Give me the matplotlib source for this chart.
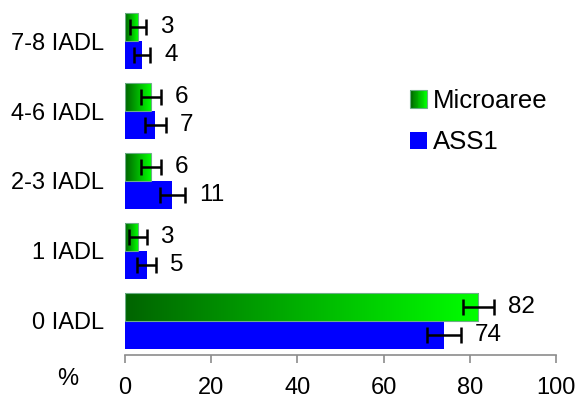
import numpy as np
import matplotlib.pyplot as plt
from matplotlib.colors import LinearSegmentedColormap
from matplotlib.legend_handler import HandlerBase
from matplotlib.patches import Rectangle, Patch

plt.rcParams['font.family'] = ['Liberation Sans', 'DejaVu Sans']

categories = ['0 IADL', '1 IADL', '2-3 IADL', '4-6 IADL', '7-8 IADL']
micro_vals = [82, 3, 6, 6, 3]
micro_err = [3.6, 2.0, 2.4, 2.4, 1.9]
ass_vals = [74, 5, 11, 7, 4]
ass_err = [4.0, 2.3, 2.9, 2.4, 1.9]
xticks = [0, 20, 40, 60, 80, 100]

green_cmap = LinearSegmentedColormap.from_list('grn', ['#006400', '#00ff00'])
blue = '#0000ff'
edge_green = '#6cae86'
gray = '#8c8c8c'
bh = 0.4


class GradientHandler(HandlerBase):
    def create_artists(self, legend, orig_handle, xdescent, ydescent,
                       width, height, fontsize, trans):
        arts = []
        n = 20
        for k in range(n):
            r = Rectangle((-xdescent + width * k / n, -ydescent), width / n + 0.05, height,
                          facecolor=green_cmap(k / (n - 1)), edgecolor='none', transform=trans)
            arts.append(r)
        arts.append(Rectangle((-xdescent, -ydescent), width, height, facecolor='none',
                              edgecolor=edge_green, lw=0.8, transform=trans))
        return arts


fig = plt.figure(figsize=(5.81, 4.0), dpi=100)
ax = fig.add_axes([125 / 581, 45 / 400, 431 / 581, 355 / 400])

y = np.arange(len(categories))
grad = np.linspace(0, 1, 256).reshape(1, -1)

for i, v in enumerate(micro_vals):
    ax.imshow(grad, extent=[0, v, y[i], y[i] + bh], aspect='auto', cmap=green_cmap,
              interpolation='bilinear', zorder=2)
ax.barh(y + bh / 2, micro_vals, height=bh, color='none', edgecolor=edge_green,
        linewidth=0.8, zorder=3)
ax.barh(y - bh / 2, ass_vals, height=bh, color=blue, zorder=2)

ax.errorbar(micro_vals, y + bh / 2, xerr=micro_err, fmt='none', ecolor='black',
            elinewidth=1.8, capsize=5.5, capthick=1.8, zorder=4)
ax.errorbar(ass_vals, y - bh / 2, xerr=ass_err, fmt='none', ecolor='black',
            elinewidth=1.8, capsize=5.5, capthick=1.8, zorder=4)

for i in range(len(categories)):
    ax.annotate(str(micro_vals[i]), (micro_vals[i] + micro_err[i], y[i] + bh / 2),
                xytext=(10, 0), textcoords='offset points', ha='left', va='center',
                fontsize=17.5)
    ax.annotate(str(ass_vals[i]), (ass_vals[i] + ass_err[i], y[i] - bh / 2),
                xytext=(10, 0), textcoords='offset points', ha='left', va='center',
                fontsize=17.5)

ax.set_xlim(0, 100)
ax.set_ylim(-0.486, 4.586)
ax.set_xticks(xticks)
ax.set_xticklabels([str(t) for t in xticks], fontsize=17)
ax.set_yticks(y)
ax.set_yticklabels(categories, fontsize=17)
ax.tick_params(axis='y', length=0, pad=15)
ax.tick_params(axis='x', length=6, width=1.2, color=gray, direction='out', pad=10)
for s in ['top', 'right', 'left']:
    ax.spines[s].set_visible(False)
ax.spines['bottom'].set_color(gray)
ax.spines['bottom'].set_linewidth(1.2)

fig.text(68 / 581, 1 - 379 / 400, '%', fontsize=17, ha='center', va='center')

handles = [Patch(label='Microaree'), Patch(facecolor=blue, edgecolor='none', label='ASS1')]
ax.legend(handles=handles, handler_map={handles[0]: GradientHandler()},
          loc='upper left', bbox_to_anchor=(410 / 581, 1 - 89 / 400),
          bbox_transform=fig.transFigure, frameon=False, fontsize=18.5,
          handlelength=0.66, handleheight=0.66, handletextpad=0.23,
          labelspacing=0.68, borderpad=0, borderaxespad=0)

fig.savefig('out.png', dpi=100)
